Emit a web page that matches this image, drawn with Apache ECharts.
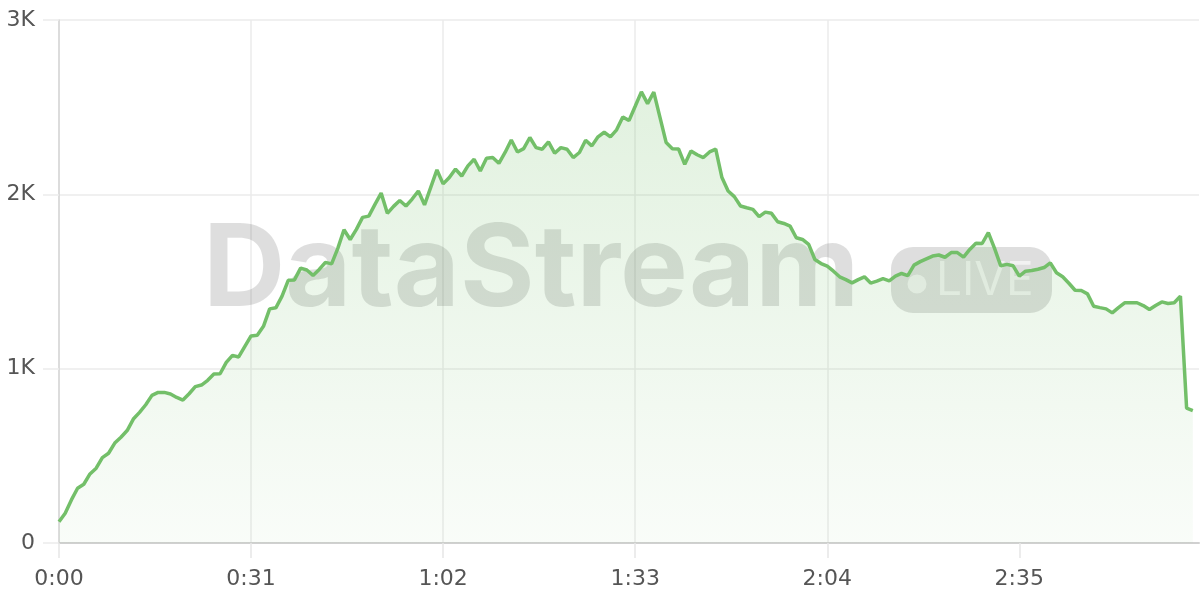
<!DOCTYPE html>
<html>
<head>
<meta charset="utf-8">
<script src="https://cdn.jsdelivr.net/npm/echarts@6/dist/echarts.min.js"></script>
<style>
  html, body { margin: 0; padding: 0; background: #ffffff; }
  #chart { width: 1200px; height: 600px; }
</style>
</head>
<body>
<div id="chart"></div>
<script>
// Viewers per second (one sample per second, starting at 0:00)
const viewers = [
  122, 171, 247, 314, 337, 396, 429, 490, 515, 573,
  607, 645, 711, 749, 793, 847, 864, 864, 855, 835,
  820, 856, 897, 906, 933, 969, 971, 1036, 1076, 1067,
  1128, 1188, 1192, 1243, 1343, 1349, 1416, 1507, 1509, 1577,
  1566, 1535, 1569, 1610, 1601, 1690, 1797, 1741, 1799, 1868,
  1875, 1942, 2007, 1891, 1931, 1965, 1933, 1973, 2019, 1940,
  2040, 2140, 2060, 2096, 2145, 2105, 2163, 2201, 2134, 2207,
  2211, 2178, 2240, 2312, 2243, 2262, 2326, 2268, 2259, 2301,
  2236, 2268, 2259, 2211, 2240, 2310, 2278, 2330, 2356, 2330,
  2370, 2444, 2423, 2505, 2588, 2520, 2586, 2441, 2297, 2262,
  2260, 2172, 2249, 2227, 2211, 2243, 2259, 2096, 2019, 1987,
  1933, 1923, 1914, 1872, 1898, 1891, 1843, 1833, 1818, 1751,
  1741, 1713, 1626, 1603, 1588, 1559, 1527, 1511, 1492, 1511,
  1527, 1491, 1502, 1516, 1504, 1531, 1546, 1534, 1594, 1614,
  1630, 1646, 1652, 1639, 1666, 1666, 1640, 1684, 1720, 1718,
  1780, 1690, 1590, 1598, 1590, 1531, 1559, 1563, 1570, 1580,
  1607, 1550, 1527, 1490, 1450, 1448, 1429, 1358, 1350, 1343,
  1320, 1350, 1378, 1378, 1378, 1362, 1339, 1362, 1383, 1374,
  1378, 1416, 774, 760
];
const xTickSeconds = [0, 31, 62, 93, 124, 155];
const yTickValues = [0, 1000, 2000, 3000];
const lineColor = '#73BF69';

const seriesData = viewers.map((v, i) => [i, v]);

function fmtTime(s) {
  const m = Math.floor(s / 60);
  const sec = Math.round(s % 60);
  return m + ':' + (sec < 10 ? '0' : '') + sec;
}
function fmtK(v) {
  return v === 0 ? '0' : (v / 1000) + 'K';
}

const chart = echarts.init(document.getElementById('chart'), null, { renderer: 'canvas' });
const labelFont = 'DejaVu Sans';

chart.setOption({
  animation: false,
  backgroundColor: '#ffffff',
  grid: { left: 59, right: 1, top: 20, bottom: 57, containLabel: false, outerBoundsMode: 'none' },
  xAxis: {
    type: 'value',
    min: 0,
    max: 184,
    interval: 31,
    axisLine: { show: true, lineStyle: { color: '#d0d0d0', width: 2 } },
    axisTick: { show: true, length: 15, customValues: xTickSeconds, lineStyle: { color: '#e6e6e6', width: 1.5 } },
    splitLine: { show: true, showMaxLine: false, lineStyle: { color: '#ebebeb', width: 1.5 } },
    axisLabel: {
      customValues: xTickSeconds,
      formatter: fmtTime,
      color: '#555555',
      fontSize: 22,
      fontFamily: labelFont,
      margin: 25
    }
  },
  yAxis: {
    type: 'value',
    min: 0,
    max: 3000,
    interval: 1000,
    axisLine: { show: true, lineStyle: { color: '#d6d6d6', width: 1.5 } },
    axisTick: { show: true, length: 16, lineStyle: { color: '#ebebeb', width: 1.5 } },
    splitLine: { show: true, lineStyle: { color: '#ebebeb', width: 1.5 } },
    axisLabel: {
      formatter: fmtK,
      color: '#555555',
      fontSize: 22,
      fontFamily: labelFont,
      margin: 24
    }
  },
  graphic: [
    {
      type: 'text',
      x: 203,
      y: 272,
      z: 1,
      silent: true,
      style: {
        text: 'DataStream',
        font: 'bold 114px Inter',
        fill: 'rgba(0,0,0,0.13)',
        verticalAlign: 'middle',
        align: 'left'
      }
    },
    {
      type: 'rect',
      z: 1,
      silent: true,
      shape: { x: 891, y: 247, width: 161, height: 66, r: 22 },
      style: { fill: 'rgba(0,0,0,0.13)' }
    },
    {
      type: 'circle',
      z: 1,
      silent: true,
      shape: { cx: 917, cy: 284, r: 9.5 },
      style: { fill: 'rgba(255,255,255,0.6)' }
    },
    {
      type: 'text',
      x: 936,
      y: 281,
      z: 1,
      silent: true,
      style: {
        text: 'LIVE',
        font: '46px Inter',
        fill: 'rgba(255,255,255,0.6)',
        verticalAlign: 'middle',
        align: 'left'
      }
    }
  ],
  series: [
    {
      type: 'line',
      data: seriesData,
      showSymbol: false,
      symbol: 'none',
      smooth: false,
      z: 3,
      lineStyle: { color: lineColor, width: 3.5 },
      itemStyle: { color: lineColor },
      areaStyle: {
        color: new echarts.graphic.LinearGradient(0, 0, 0, 1, [
          { offset: 0, color: 'rgba(115,191,105,0.30)' },
          { offset: 1, color: 'rgba(115,191,105,0.06)' }
        ])
      }
    }
  ]
});
</script>
</body>
</html>
